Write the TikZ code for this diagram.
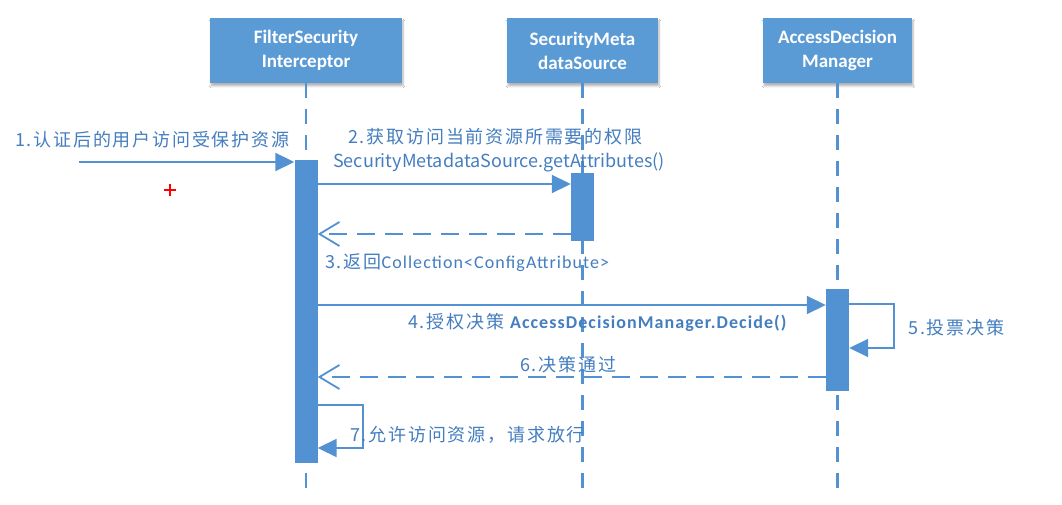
\documentclass[tikz,border=0pt]{standalone}
\usepackage{fontspec}
\setmainfont{Carlito}
\newfontfamily\cjk[LetterSpace=10]{Noto Sans CJK SC}
\newfontfamily\cjkl{Noto Sans CJK SC}
\newfontfamily\lat[LetterSpace=6]{Carlito}
\usetikzlibrary{arrows.meta,shadows.blur}
\definecolor{boxblue}{RGB}{91,155,213}
\definecolor{lineblue}{RGB}{82,146,210}
\definecolor{txtblue}{RGB}{68,126,192}
\begin{document}
\begin{tikzpicture}[x=1pt,y=-1pt,
  actor/.style={rectangle, fill=boxblue, text=white, font=\bfseries\fontsize{19}{24}\selectfont,
    align=center, minimum height=65pt, inner sep=0pt,
    blur shadow={shadow xshift=1pt, shadow yshift=-3pt, shadow blur steps=6, shadow opacity=30}},
  life/.style={draw=lineblue, line width=2.2pt, dash pattern=on 15pt off 11pt},
  bar/.style={rectangle, fill=lineblue, inner sep=0pt, minimum width=23pt, anchor=north},
  msg/.style={draw=lineblue, line width=1.8pt, -{Triangle[length=19pt,width=18pt]}},
  ret/.style={draw=lineblue, line width=1.8pt, dash pattern=on 18pt off 10pt,
    -{Straight Barb[length=20pt,width=24pt]}},
  lbl/.style={text=txtblue, inner sep=0pt, anchor=west, font=\fontsize{18}{22}\selectfont}]
\fill[white] (0,0) rectangle (1062,505);
\useasboundingbox (0,0) rectangle (1062,505);

% actors
\node[actor, minimum width=192pt] (fsi) at (306,50.5) {FilterSecurity\\Interceptor};
\node[actor, minimum width=151pt] (sms) at (582.5,50.5) {SecurityMeta\\dataSource};
\node[actor, minimum width=149pt] (adm) at (837.5,50.5) {AccessDecision\\Manager};

% lifelines
\coordinate (bottom) at (0,497);
\draw[life] (fsi.south) -- (fsi.south |- bottom);
\draw[life] (sms.south) -- (sms.south |- bottom);
\draw[life] (adm.south) -- (adm.south |- bottom);

% activation bars
\node[bar, minimum height=303pt] (bar1) at (306,160) {};
\node[bar, minimum height=68pt] (bar2) at (582.5,173) {};
\node[bar, minimum height=102pt] (bar3) at (837.5,289) {};

% messages
\coordinate (u) at (79,162);
\draw[msg] (u) -- (u -| bar1.west);

\coordinate (y2) at (0,184);
\draw[msg] (bar1.east |- y2) -- (bar2.west |- y2);

\coordinate (y3) at (0,234);
\draw[ret] (bar2.west |- y3) -- (bar1.east |- y3);

\coordinate (y4) at (0,305);
\draw[msg] (bar1.east |- y4) -- (bar3.west |- y4);

\coordinate (l5a) at (894,304);
\coordinate (l5b) at (894,348);
\draw[msg] (bar3.east |- l5a) -- (l5a) -- (l5b) -- (bar3.east |- l5b);

\coordinate (y6) at (0,377);
\draw[ret] (bar3.west |- y6) -- (bar1.east |- y6);

\coordinate (l7a) at (363,405);
\coordinate (l7b) at (363,448);
\draw[msg] (bar1.east |- l7a) -- (l7a) -- (l7b) -- (bar1.east |- l7b);

% labels
\node[lbl] (t1) at (15,140) {\cjk 1.认证后的用户访问受保护资源};
\node[lbl] (t2) at (348,137) {\cjk 2.获取访问当前资源所需要的权限};
\node[lbl] (t2b) at (333,162) {\cjkl SecurityMetadataSource.getAttributes()};
\node[lbl] (t3) at (325,263) {\cjk 3.返回\lat Collection<ConfigAttribute>};
\node[lbl] (t4) at (408,322) {\cjk 4.授权决策 \lat\bfseries AccessDecisionManager.Decide()};
\node[lbl] (t5) at (908,328) {\cjk 5.投票决策};
\node[lbl] (t6) at (520,365) {\cjk 6.决策通过};
\node[lbl] (t7) at (350,435) {\cjk 7.允许访问资源，请求放行};

% cursor mark
\draw[red, line width=1.6pt] (164,190) -- (176,190) (170,184) -- (170,196);
\end{tikzpicture}
\end{document}
